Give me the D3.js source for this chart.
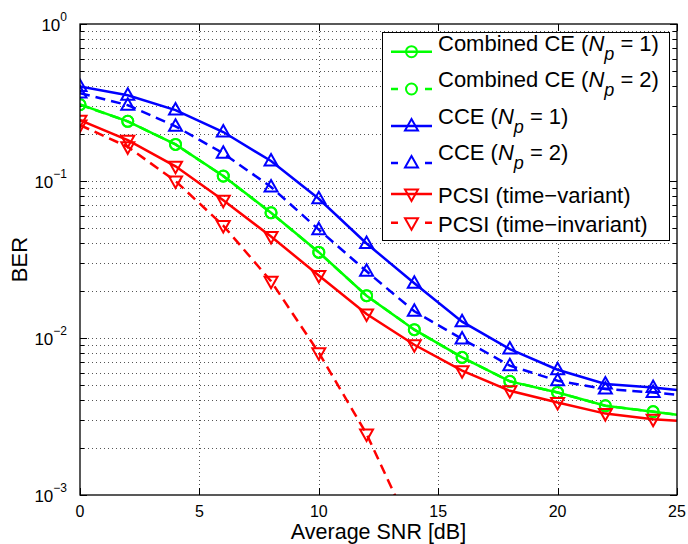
<!DOCTYPE html>
<html>
<head>
<meta charset="utf-8">
<script src="https://cdn.jsdelivr.net/npm/d3@7/dist/d3.min.js"></script>
<style>
  body { margin: 0; background: #fff; }
  svg { display: block; font-family: "Liberation Sans", Arial, sans-serif; }
</style>
</head>
<body>
<div id="root"></div>
<script>
// values
const snr = [0, 2, 4, 6, 8, 10, 12, 14, 16, 18, 20, 22, 24, 25]
const combinedNp1 = [0.307, 0.240, 0.171, 0.1076, 0.0628, 0.0352, 0.0186, 0.0113, 0.00753, 0.00529, 0.0045, 0.0037, 0.00339, 0.00324]
const combinedNp2 = [0.306, 0.240, 0.171, 0.1074, 0.0627, 0.0351, 0.0186, 0.0113, 0.00752, 0.0053, 0.0045, 0.0037, 0.0034, 0.00325]
const cceNp1 = [0.40, 0.352, 0.283, 0.205, 0.134, 0.077, 0.040, 0.0223, 0.0127, 0.0085, 0.00628, 0.0051, 0.00484, 0.00467]
const cceNp2 = [0.363, 0.304, 0.223, 0.150, 0.0916, 0.049, 0.0266, 0.0148, 0.00986, 0.00666, 0.00534, 0.00473, 0.0045, 0.00435]
const pcsiVariant = [0.244, 0.182, 0.124, 0.0753, 0.0443, 0.025, 0.0142, 0.00906, 0.00619, 0.00461, 0.00388, 0.0033, 0.00304, 0.00297]
const pcsiInvariant = [0.227, 0.165, 0.100, 0.052, 0.023, 0.00806, 0.00245, 0.00054, null, null, null, null, null, null]

const xTicks = [0, 5, 10, 15, 20, 25]
const yDecades = [-3, -2, -1, 0]

const series = [
  { name: "Combined CE", np: "1", values: combinedNp1, color: "#00ff00", dash: false, marker: "circle" },
  { name: "Combined CE", np: "2", values: combinedNp2, color: "#00ff00", dash: true, marker: "circle" },
  { name: "CCE", np: "1", values: cceNp1, color: "#0000ff", dash: false, marker: "up" },
  { name: "CCE", np: "2", values: cceNp2, color: "#0000ff", dash: true, marker: "up" },
  { name: "PCSI (time\u2212variant)", np: null, values: pcsiVariant, color: "#ff0000", dash: false, marker: "down" },
  { name: "PCSI (time\u2212invariant)", np: null, values: pcsiInvariant, color: "#ff0000", dash: true, marker: "down" },
]

const width = 688
const height = 544
const margin = { top: 24, right: 11, bottom: 49, left: 80 }
const boundedWidth = width - margin.left - margin.right
const boundedHeight = height - margin.top - margin.bottom

const svg = d3.select("#root").append("svg")
  .attr("width", width)
  .attr("height", height)

svg.append("rect").attr("width", width).attr("height", height).attr("fill", "#fff")

const xScale = d3.scaleLinear().domain([0, 25]).range([margin.left, margin.left + boundedWidth])
const yScale = d3.scaleLog().domain([1e-3, 1]).range([margin.top + boundedHeight, margin.top])

const x0 = xScale.range()[0], x1 = xScale.range()[1]
const yTop = yScale.range()[1], yBot = yScale.range()[0]

// minor + major log values inside the axis
const logVals = []
for (let d = -3; d < 0; d++) {
  for (let m = 1; m <= 9; m++) logVals.push({ v: m * Math.pow(10, d), major: m === 1 })
}
logVals.push({ v: 1, major: true })

// grid
const grid = svg.append("g")
  .attr("stroke", "#555")
  .attr("stroke-width", 1)
  .attr("stroke-dasharray", "1,3")
grid.selectAll(".gx")
  .data(xTicks.filter(d => d > 0 && d < 25))
  .join("line")
  .attr("x1", d => Math.round(xScale(d)) + 0.5)
  .attr("x2", d => Math.round(xScale(d)) + 0.5)
  .attr("y1", yTop)
  .attr("y2", yBot)
grid.selectAll(".gy")
  .data(logVals.filter(d => d.v > 1e-3 && d.v < 1))
  .join("line")
  .attr("x1", x0)
  .attr("x2", x1)
  .attr("y1", d => Math.round(yScale(d.v)) + 0.5)
  .attr("y2", d => Math.round(yScale(d.v)) + 0.5)

// ticks (inward, both sides)
const ticks = svg.append("g").attr("stroke", "#000").attr("stroke-width", 1)
xTicks.forEach(t => {
  const x = Math.round(xScale(t)) + 0.5
  ticks.append("line").attr("x1", x).attr("x2", x).attr("y1", yBot).attr("y2", yBot - 7)
  ticks.append("line").attr("x1", x).attr("x2", x).attr("y1", yTop).attr("y2", yTop + 7)
})
logVals.forEach(d => {
  const y = Math.round(yScale(d.v)) + 0.5
  const len = d.major ? 7 : 4
  ticks.append("line").attr("x1", x0).attr("x2", x0 + len).attr("y1", y).attr("y2", y)
  ticks.append("line").attr("x1", x1).attr("x2", x1 - len).attr("y1", y).attr("y2", y)
})

// data
const clip = svg.append("clipPath").attr("id", "plotClip")
clip.append("rect").attr("x", x0).attr("y", yTop).attr("width", x1 - x0).attr("height", yBot - yTop)

const plot = svg.append("g").attr("clip-path", "url(#plotClip)")

const line = d3.line()
  .defined(d => d.v != null)
  .x(d => xScale(d.x))
  .y(d => yScale(d.v))

const markerPath = {
  up: "M0,-7L6.5,4.5L-6.5,4.5Z",
  down: "M0,7L6.5,-4.5L-6.5,-4.5Z",
}

function drawMarker(g, type, color) {
  if (type === "circle") {
    g.append("circle").attr("r", 5.5)
      .attr("fill", "none").attr("stroke", color).attr("stroke-width", 2)
  } else {
    g.append("path").attr("d", markerPath[type])
      .attr("fill", "none").attr("stroke", color).attr("stroke-width", 2)
  }
}

series.forEach(s => {
  const pts = snr.map((x, i) => ({ x, v: s.values[i] }))
  plot.append("path")
    .datum(pts)
    .attr("d", line)
    .attr("fill", "none")
    .attr("stroke", s.color)
    .attr("stroke-width", 2.5)
    .attr("stroke-dasharray", s.dash ? "10,6" : null)
  pts.filter(p => p.v != null && p.x % 2 === 0).forEach(p => {
    const g = plot.append("g").attr("transform", `translate(${xScale(p.x)},${yScale(p.v)})`)
    drawMarker(g, s.marker, s.color)
  })
})

// axes box
svg.append("rect")
  .attr("x", x0).attr("y", yTop)
  .attr("width", x1 - x0).attr("height", yBot - yTop)
  .attr("fill", "none").attr("stroke", "#000").attr("stroke-width", 1.3)

// tick labels
svg.append("g").selectAll("text")
  .data(xTicks)
  .join("text")
  .attr("x", d => xScale(d))
  .attr("y", yBot + 21.5)
  .attr("text-anchor", "middle")
  .attr("font-size", 16)
  .text(d => d)

const yLab = svg.append("g").attr("font-size", 17)
yDecades.forEach(d => {
  const t = yLab.append("text")
    .attr("x", 67)
    .attr("y", yScale(Math.pow(10, d)) + 7)
    .attr("text-anchor", "end")
  t.append("tspan").text("10")
  t.append("tspan").attr("dy", -10).attr("font-size", 12).text(d === 0 ? "0" : "\u2212" + Math.abs(d))
})

// axis labels
svg.append("text")
  .attr("x", (x0 + x1) / 2)
  .attr("y", 539)
  .attr("text-anchor", "middle")
  .attr("font-size", 21.5)
  .text("Average SNR [dB]")

svg.append("text")
  .attr("transform", `translate(27,${(yTop + yBot) / 2}) rotate(-90)`)
  .attr("text-anchor", "middle")
  .attr("font-size", 22)
  .text("BER")

// legend
const legend = svg.append("g")
legend.append("rect")
  .attr("x", 382.5).attr("y", 32.5)
  .attr("width", 287).attr("height", 208)
  .attr("fill", "#fff").attr("stroke", "#000").attr("stroke-width", 1)

const rowLineY = [51.7, 89, 126, 163, 194, 222.7]
const rowTextY = [50.5, 87, 123.5, 160, 203, 231.5]

series.forEach((s, i) => {
  const ly = rowLineY[i]
  legend.append("line")
    .attr("x1", 391).attr("x2", 432)
    .attr("y1", ly).attr("y2", ly)
    .attr("stroke", s.color).attr("stroke-width", 2.5)
    .attr("stroke-dasharray", s.dash ? "7,27,7" : null)
  const g = legend.append("g").attr("transform", `translate(411.5,${ly})`)
  drawMarker(g, s.marker, s.color)

  const t = legend.append("text")
    .attr("x", 438)
    .attr("y", rowTextY[i])
    .attr("font-size", 22)
  if (s.np) {
    t.append("tspan").text(s.name + " (")
    t.append("tspan").attr("font-style", "italic").text("N")
    t.append("tspan").attr("font-style", "italic").attr("font-size", 18).attr("dy", 9).text("p")
    t.append("tspan").attr("dy", -9).text(" = " + s.np + ")")
  } else {
    t.text(s.name)
  }
})
</script>
</body>
</html>
